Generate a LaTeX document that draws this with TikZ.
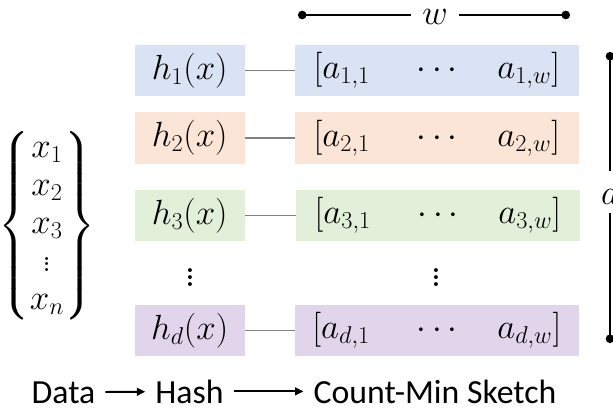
\documentclass[tikz,border=0pt]{standalone}
\usepackage{amsmath}
\usepackage{fontspec}
\newfontfamily\labelfont{Carlito}
\usetikzlibrary{arrows.meta}

\definecolor{rowblue}{HTML}{DAE3F3}
\definecolor{roworange}{HTML}{FBE5D6}
\definecolor{rowgreen}{HTML}{E2F0D9}
\definecolor{rowpurple}{HTML}{E1D5EC}
\definecolor{linkgray}{HTML}{7F7F7F}

\begin{document}
\begin{tikzpicture}[x=0.025cm,y=-0.025cm,font=\fontsize{26}{27}\selectfont,
    hashbox/.style={anchor=east,minimum width=2.75cm,minimum height=1.275cm,inner sep=0pt},
    rowbox/.style={anchor=west,minimum width=7.08cm,minimum height=1.275cm,inner sep=0pt},
    gap/.style={scale=1.3},
    link/.style={draw=linkgray,line width=1.1pt},
    bar/.style={line width=1.9pt},
    flow/.style={line width=1.4pt,-{Triangle[length=6pt,width=5.5pt]}},
    stage/.style={anchor=base,inner xsep=7pt,font=\labelfont\fontsize{24}{27}\selectfont}]
    \useasboundingbox (0,0) rectangle (613,408);

    %data
    \node (xvec) at (47,226) {$\left\{\begin{matrix}x_1\\x_2\\x_3\\\vdots\\x_n\end{matrix}\right\}$};

    %hash blocks
    \node[hashbox,fill=rowblue] (h1) at (245,70.5) {$h_1(x)$};
    \node[hashbox,fill=roworange] (h2) at (245,138) {$h_2(x)$};
    \node[hashbox,fill=rowgreen] (h3) at (245,215.5) {$h_3(x)$};
    \node[gap] (hdots) at (190,272) {$\vdots$};
    \node[hashbox,fill=rowpurple] (hd) at (245,330.5) {$h_d(x)$};

    %sketch rows
    \node[rowbox,fill=rowblue] (a1) at (295,70.5) {$[a_{1,1}\hspace{1.02cm}\cdots\hspace{0.85cm}a_{1,w}]$};
    \node[rowbox,fill=roworange] (a2) at (295,138) {$[a_{2,1}\hspace{1.02cm}\cdots\hspace{0.85cm}a_{2,w}]$};
    \node[rowbox,fill=rowgreen] (a3) at (296,215.5) {$[a_{3,1}\hspace{1.02cm}\cdots\hspace{0.85cm}a_{3,w}]$};
    \node[gap] (adots) at (436,272) {$\vdots$};
    \node[rowbox,fill=rowpurple] (ad) at (295,330.5) {$[a_{d,1}\hspace{1.02cm}\cdots\hspace{0.85cm}a_{d,w}]$};

    %links
    \draw[link] (h1) -- (a1);
    \draw[link] (h2) -- (a2);
    \draw[link] (h3) -- (a3);
    \draw[link] (hd) -- (ad);

    %width and depth
    \coordinate (wl) at (298,15);
    \coordinate (wr) at (570,15);
    \node[inner xsep=8pt] (wlab) at (435,17) {$w$};
    \draw[bar,{Circle[length=6pt]}-] (wl) -- (wl -| wlab.west);
    \draw[bar,-{Circle[length=6pt]}] (wr -| wlab.east) -- (wr);
    \coordinate (dtop) at (610,52);
    \coordinate (dbot) at (610,343);
    \node[inner ysep=6pt] (dlab) at (610,192) {$d$};
    \draw[bar,{Circle[length=6pt]}-] (dtop) -- (dtop |- dlab.north);
    \draw[bar,-{Circle[length=6pt]}] (dbot |- dlab.south) -- (dbot);

    %stages
    \node[stage] (data) at (63.5,403) {Data};
    \node[stage] (hash) at (189.5,403) {Hash};
    \node[stage] (cms) at (435,403) {Count-Min Sketch};
    \draw[flow] (data) -- (hash);
    \draw[flow] (hash) -- (cms);
\end{tikzpicture}
\end{document}
